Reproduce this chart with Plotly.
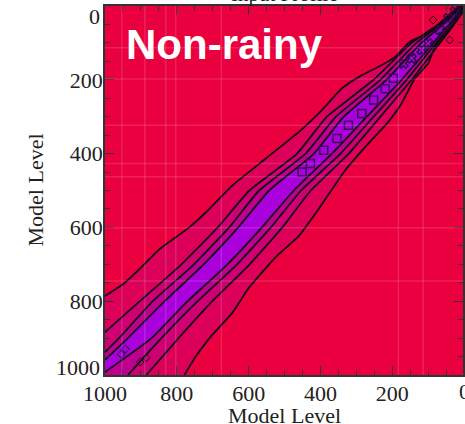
import plotly.graph_objects as go

# Contour edges: x (model level) at each y (model level)
c1_upper_x = [12, 60, 100, 151, 192, 229, 289, 340, 396, 460, 553, 645, 719, 765, 848, 904, 950, 1000]
c1_upper_y = [0, 40, 74, 97, 138, 160, 190, 223, 282, 341, 414, 486, 559, 600, 659, 713, 754, 786]
c1_lower_x = [0, 26, 81, 100, 137, 174, 211, 275, 331, 405, 460, 525, 599, 645, 700, 746, 779]
c1_lower_y = [12, 47, 110, 156, 196, 264, 314, 382, 445, 550, 623, 681, 763, 831, 890, 948, 1000]

c2_upper_y = [0, 50, 100, 200, 300, 400, 500, 600, 700, 800, 884]
c2_upper_x = [8, 72, 146, 252, 382, 465, 598, 686, 787, 903, 1000]
c2_lower_y = [0, 50, 100, 200, 300, 400, 500, 600, 700, 800, 900, 1000]
c2_lower_x = [0, 28, 67, 146, 233, 321, 427, 506, 597, 701, 795, 885]

c3_upper_y = [0, 50, 100, 200, 300, 400, 500, 600, 700, 800, 900, 938]
c3_upper_x = [5, 65, 133, 233, 357, 441, 571, 654, 752, 867, 961, 1000]
c3_lower_y = [0, 50, 100, 200, 300, 400, 500, 600, 700, 800, 900, 1000]
c3_lower_x = [0, 35, 78, 160, 252, 344, 454, 538, 632, 742, 843, 936]

c4_upper_y = [0, 50, 100, 200, 300, 400, 500, 600, 700, 800, 900, 959]
c4_upper_x = [3, 58, 119, 216, 335, 418, 543, 629, 725, 834, 936, 1000]
c4_lower_y = [0, 50, 100, 200, 300, 400, 500, 600, 700, 800, 900, 992]
c4_lower_x = [0, 42, 86, 174, 271, 368, 474, 563, 659, 770, 870, 1000]

# Small closed contours along the core
square_x = [451, 428, 391, 354, 322, 285, 252, 220, 197]
square_y = [450, 427, 391, 359, 323, 291, 255, 224, 196]
cross_x = [169, 146, 118, 100, 67, 44, 26]
cross_y = [156, 142, 119, 101, 65, 33, 15]
blob_x = [955, 943, 902, 885, 86, 40]
blob_y = [944, 930, 965, 953, 38, 92]

grid_x = [953, 889, 831, 803, 676, 183, 114]
grid_y = [113, 198, 323, 427, 463, 601, 745]

x_tick_text = ["1000", "800", "600", "400", "200"]
x_tick_vals = [1000, 800, 600, 400, 200]
y_tick_vals = [200, 400, 600, 800]

BG = "#EA003E"
FILL = ["#DC0058", "#CE0072", "#BE008E", "#AA00DC"]
LINE = "#14081a"
SERIF = "Liberation Serif"
AXIS = "#333333"
TEXT = "#222222"

fig = go.Figure()


def band(ux, uy, lx, ly, color):
    px = ux + [1000] + lx[::-1]
    py = uy + [1000] + ly[::-1]
    fig.add_trace(go.Scatter(x=px, y=py, mode="none", fill="toself", fillcolor=color,
                             hoverinfo="skip", showlegend=False))


def edges(ux, uy, lx, ly, width=1.8):
    for a, b in ((ux, uy), (lx, ly)):
        fig.add_trace(go.Scatter(x=a, y=b, mode="lines",
                                 line=dict(color=LINE, width=width, shape="spline", smoothing=0.4),
                                 hoverinfo="skip", showlegend=False))


sets = [
    (c1_upper_x, c1_upper_y, c1_lower_x, c1_lower_y),
    (c2_upper_x, c2_upper_y, c2_lower_x, c2_lower_y),
    (c3_upper_x, c3_upper_y, c3_lower_x, c3_lower_y),
    (c4_upper_x, c4_upper_y, c4_lower_x, c4_lower_y),
]
for s, color in zip(sets, FILL):
    band(*s, color)
for s in sets:
    edges(*s)

fig.add_trace(go.Scatter(x=square_x, y=square_y, mode="markers", hoverinfo="skip", showlegend=False,
                         marker=dict(symbol="square-open", size=8, color="#3a0a50", line=dict(width=1.5))))
fig.add_trace(go.Scatter(x=cross_x, y=cross_y, mode="markers", hoverinfo="skip", showlegend=False,
                         marker=dict(symbol="x-open", size=8, color="#2a0a40", line=dict(width=1.5))))
fig.add_trace(go.Scatter(x=blob_x, y=blob_y, mode="markers", hoverinfo="skip", showlegend=False,
                         marker=dict(symbol="diamond-open", size=6, color=LINE, line=dict(width=1))))

shapes = []
for v in grid_x:
    shapes.append(dict(type="line", xref="x", yref="paper", x0=v, x1=v, y0=0, y1=1,
                       line=dict(color="rgba(255,255,255,0.13)", width=1.5), layer="above"))
for v in grid_y:
    shapes.append(dict(type="line", xref="paper", yref="y", x0=0, x1=1, y0=v, y1=v,
                       line=dict(color="rgba(255,255,255,0.13)", width=1.5), layer="above"))

tick_font = dict(family=SERIF, size=22, color=TEXT)
annotations = [
    dict(text="Non-rainy", xref="paper", yref="paper", x=0.053, y=0.895, xanchor="left", yanchor="middle",
         showarrow=False, font=dict(family="Liberation Sans", size=42, color="white", weight="bold")),
    dict(text="0", xref="paper", yref="y", x=0, y=0, xanchor="right", yanchor="middle", xshift=-3, yshift=-10,
         showarrow=False, font=tick_font),
    dict(text="1000", xref="paper", yref="y", x=0, y=1000, xanchor="right", yanchor="middle", xshift=-3, yshift=8,
         showarrow=False, font=tick_font),
    dict(text="0", xref="paper", yref="paper", x=1.0, y=0, xanchor="center", yanchor="top", xshift=1,
         yshift=-2, showarrow=False, font=tick_font),
    dict(text="Input Profile", xref="paper", yref="paper", x=0.5, y=1, xanchor="center", yanchor="bottom", yshift=-2,
         showarrow=False, font=dict(family=SERIF, size=21, color=TEXT)),
    dict(text="Model Level", xref="paper", yref="paper", x=0.5, y=0, xanchor="center", yanchor="middle",
         yshift=-40, showarrow=False, font=dict(family=SERIF, size=22, color=TEXT)),
    dict(text="Model Level", xref="paper", yref="paper", x=0, y=0.5, xanchor="center", yanchor="middle",
         textangle=-90, xshift=-70, yshift=0, showarrow=False, font=dict(family=SERIF, size=22, color=TEXT)),
]

minor = dict(ticks="inside", ticklen=5, dtick=50, tickcolor=AXIS, tickwidth=1, showgrid=False)
axis_common = dict(showgrid=False, zeroline=False, showline=True, linecolor=AXIS, linewidth=1.5,
                   mirror="allticks", ticks="inside", ticklen=9, tickwidth=1.2, tickcolor=AXIS,
                   tickfont=tick_font, minor=minor)

fig.update_layout(
    width=465, height=424,
    margin=dict(l=105, r=0, t=6, b=49),
    paper_bgcolor="white", plot_bgcolor=BG,
    showlegend=False, shapes=shapes, annotations=annotations,
    xaxis=dict(range=[1000, 3], tickmode="array", tickvals=x_tick_vals, ticktext=x_tick_text,
               ticklabelstandoff=-2, **axis_common),
    yaxis=dict(range=[1000, 0], tickmode="array", tickvals=y_tick_vals, ticklabelstandoff=-4,
               **axis_common),
)

fig.write_html(
    "out.html",
    config=dict(displayModeBar=False),
    post_script="document.body.style.margin='0';document.body.style.overflow='hidden';"
                "document.documentElement.style.overflow='hidden';",
)
